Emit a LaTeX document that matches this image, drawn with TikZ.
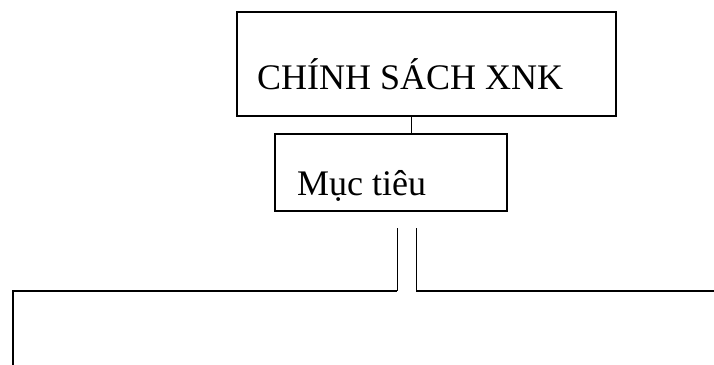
\documentclass[tikz,border=0pt]{standalone}
\usepackage{fontspec}
\setmainfont{Liberation Serif}
\begin{document}
\begin{tikzpicture}[x=1pt,y=-1pt,
  box/.style={draw=black,line width=1.4pt,rectangle,inner sep=0pt},
  label text/.style={anchor=base west,inner sep=0pt,font=\fontsize{36}{40}\selectfont},
  link/.style={draw=black,line width=1pt}]
\useasboundingbox (0,0) rectangle (714,364);
\clip (0,0) rectangle (714,364);
\fill[white] (0,0) rectangle (714,364);

% policy box
\node[box,minimum width=379pt,minimum height=104pt] (policy) at (426.5,64) {};
\node[label text] (policytext) at (257,89) {CHÍNH SÁCH XNK};

% objectives box
\node[box,minimum width=232pt,minimum height=77pt] (goal) at (391,172.5) {};
\node[label text] (goaltext) at (297,195) {Mục tiêu};

% single link between the two boxes
\coordinate (linkx) at (411,0);
\draw[link] (policy.south -| linkx) -- (goal.north -| linkx);

% double link down to the wide box
\coordinate (dl) at (397,228);
\coordinate (dr) at (416,228);
\coordinate (wl) at (13,291);
\coordinate (wr) at (720,291);
\draw[link] (dl) -- (dl |- wl);
\draw[link] (dr) -- (dr |- wl);

% wide box, open between the two links
\draw[line width=1.6pt] (13,370) -- (wl) -- (dl |- wl);
\draw[line width=1.6pt] (dr |- wl) -- (wr);
\end{tikzpicture}
\end{document}
